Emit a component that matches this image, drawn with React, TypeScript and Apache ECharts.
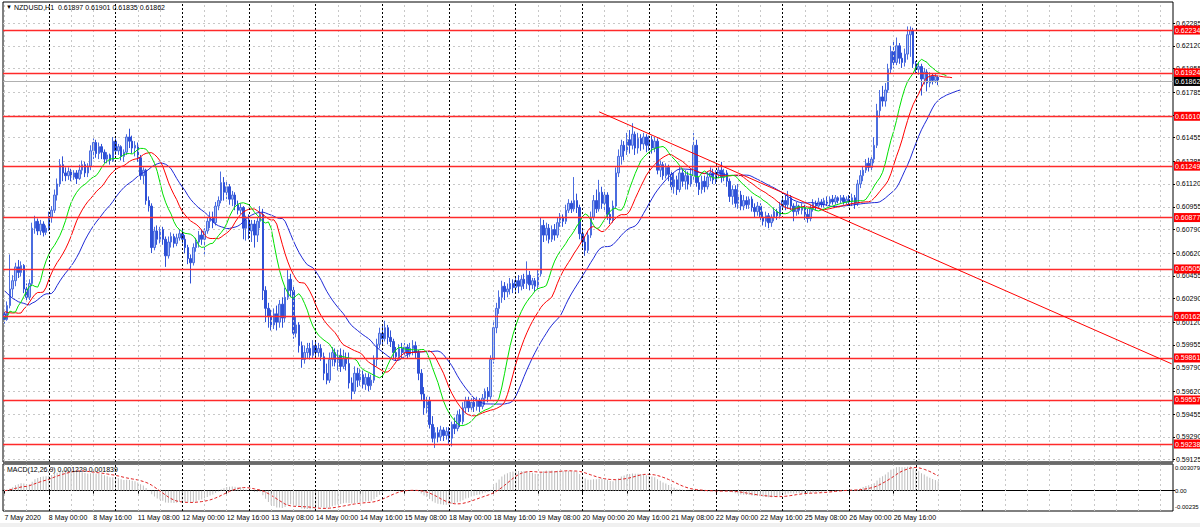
import React, { useEffect, useRef } from 'react';
import * as echarts from 'echarts';

const FONT = '"Liberation Sans", Arial, sans-serif';
const SYMBOL = 'NZDUSD,H1';
const FIRST_LABEL = '7 May 2020';
const PIP = 10000;

// Hourly candles per trading day, in pips: [open, close, low, high]
const may07 = [
  [6018,6014,6011,6021],[6014,6024,6013,6027],[6024,6036,6022,6061],[6036,6042,6030,6046],
  [6042,6052,6038,6055],[6052,6048,6044,6057],[6048,6053,6045,6056],[6053,6036,6033,6054],
  [6036,6030,6027,6040],[6030,6040,6028,6043],[6040,6080,6038,6084],[6080,6085,6076,6089],
  [6085,6078,6075,6087],[6078,6083,6075,6086],[6083,6077,6074,6085],[6077,6080,6075,6082],
];
const may08 = [
  [6080,6088,6078,6092],[6088,6093,6084,6096],[6093,6104,6091,6108],[6104,6112,6100,6116],
  [6112,6126,6110,6130],[6126,6120,6114,6132],[6120,6118,6114,6124],[6118,6121,6115,6124],
  [6121,6117,6114,6123],[6117,6120,6115,6122],[6120,6116,6112,6122],[6116,6122,6115,6126],
  [6122,6126,6119,6129],[6126,6120,6117,6128],[6120,6125,6117,6127],[6125,6136,6122,6140],
  [6136,6142,6130,6145],[6142,6134,6131,6144],[6134,6139,6130,6142],[6139,6135,6130,6141],
  [6135,6130,6127,6137],[6130,6133,6127,6135],[6133,6129,6126,6134],[6129,6143,6128,6146],
];
const may11 = [
  [6143,6136,6133,6145],[6136,6139,6133,6141],[6139,6132,6129,6140],[6132,6135,6128,6137],
  [6135,6146,6133,6148],[6146,6143,6138,6152],[6143,6138,6134,6147],[6138,6140,6132,6143],
  [6140,6131,6128,6142],[6131,6118,6115,6133],[6118,6122,6112,6124],[6122,6100,6097,6123],
  [6100,6096,6092,6103],[6096,6066,6062,6098],[6066,6078,6064,6081],[6078,6072,6068,6082],
  [6072,6079,6069,6081],[6079,6072,6068,6081],[6072,6060,6052,6074],[6060,6070,6058,6074],
  [6070,6074,6066,6077],[6074,6069,6066,6076],[6069,6073,6067,6076],[6073,6076,6071,6079],
];
const may12 = [
  [6076,6072,6069,6079],[6072,6066,6062,6075],[6066,6058,6054,6068],[6058,6055,6040,6061],
  [6055,6066,6053,6069],[6066,6070,6063,6073],[6070,6075,6066,6078],[6075,6072,6068,6079],
  [6072,6078,6061,6080],[6078,6085,6076,6088],[6085,6088,6080,6092],[6088,6084,6080,6092],
  [6084,6096,6082,6099],[6096,6100,6093,6103],[6100,6113,6098,6121],[6113,6106,6100,6117],
  [6106,6110,6101,6114],[6110,6101,6097,6112],[6101,6104,6096,6107],[6104,6097,6093,6106],
  [6097,6093,6090,6100],[6093,6095,6090,6098],[6095,6080,6072,6096],[6080,6086,6071,6089],
];
const may13 = [
  [6086,6078,6072,6090],[6078,6083,6070,6086],[6083,6075,6066,6086],[6075,6085,6070,6088],
  [6085,6090,6080,6096],[6090,6035,6028,6094],[6035,6022,6012,6038],[6022,6016,6008,6026],
  [6016,6010,6006,6021],[6010,6018,6007,6022],[6018,6012,6006,6024],[6012,6025,6008,6028],
  [6025,6015,6008,6030],[6015,6030,6012,6037],[6030,6043,6028,6050],[6043,6035,6030,6047],
  [6035,6004,6000,6038],[6004,6010,6001,6016],[6010,5995,5990,6012],[5995,5985,5979,5998],
  [5985,5990,5982,5995],[5990,5993,5986,5997],[5993,5988,5985,5997],[5988,5995,5986,5999],
];
const may14 = [
  [5995,5990,5986,5999],[5990,5993,5987,5997],[5993,5987,5984,5996],[5987,5975,5970,5990],
  [5975,5970,5967,5982],[5970,5985,5968,5990],[5985,5990,5980,5994],[5990,5983,5980,5993],
  [5983,5988,5977,5992],[5988,5980,5976,5993],[5980,5986,5978,5992],[5986,5982,5977,5990],
  [5982,5968,5964,5990],[5968,5962,5956,5972],[5962,5975,5960,5980],[5975,5970,5965,5979],
  [5970,5974,5966,5978],[5974,5967,5964,5977],[5967,5972,5963,5975],[5972,5966,5962,5975],
  [5966,5970,5963,5974],[5970,5985,5968,5988],[5985,5996,5980,6000],[5996,6004,5993,6008],
];
const may15 = [
  [6004,6000,5995,6010],[6000,6008,5998,6013],[6008,6001,5996,6010],[6001,5998,5994,6006],
  [5998,5990,5986,6000],[5990,5987,5984,5994],[5987,5993,5985,5996],[5993,5990,5986,5997],
  [5990,5994,5987,5997],[5994,5989,5986,5996],[5989,5993,5987,5997],[5993,5995,5988,5999],
  [5995,5990,5986,5998],[5990,5975,5970,5992],[5975,5960,5955,5978],[5960,5950,5945,5965],
  [5950,5955,5946,5958],[5955,5938,5935,5958],[5938,5928,5925,5944],[5928,5932,5921,5936],
  [5932,5929,5925,5936],[5929,5934,5926,5937],[5934,5930,5926,5936],[5930,5933,5927,5936],
];
const may18 = [
  [5933,5928,5924,5936],[5928,5938,5922,5940],[5938,5935,5931,5943],[5935,5945,5933,5948],
  [5945,5940,5936,5949],[5940,5950,5938,5954],[5950,5955,5946,5958],[5955,5950,5947,5958],
  [5950,5954,5948,5957],[5954,5951,5947,5957],[5951,5955,5948,5958],[5955,5951,5947,5957],
  [5951,5957,5949,5960],[5957,5962,5952,5964],[5962,5958,5954,5965],[5958,5985,5956,5988],
  [5985,6008,5982,6012],[6008,6022,6004,6026],[6022,6030,6018,6035],[6030,6038,6026,6042],
  [6038,6034,6028,6041],[6034,6036,6030,6040],[6036,6040,6032,6044],[6040,6037,6033,6043],
];
const may19 = [
  [6037,6042,6034,6045],[6042,6038,6033,6046],[6038,6043,6035,6046],[6043,6040,6036,6047],
  [6040,6046,6036,6056],[6046,6039,6035,6049],[6039,6042,6036,6044],[6042,6038,6034,6044],
  [6038,6047,6036,6050],[6047,6082,6045,6088],[6082,6075,6070,6086],[6075,6080,6071,6084],
  [6080,6072,6069,6083],[6072,6079,6070,6082],[6079,6075,6071,6083],[6075,6084,6073,6088],
  [6084,6088,6081,6091],[6088,6085,6081,6090],[6085,6093,6083,6097],[6093,6098,6091,6101],
  [6098,6094,6091,6100],[6094,6100,6092,6117],[6100,6095,6091,6105],[6095,6076,6072,6097],
];
const may20 = [
  [6076,6070,6066,6080],[6070,6064,6060,6074],[6064,6075,6062,6078],[6075,6088,6073,6092],
  [6088,6100,6086,6104],[6100,6094,6091,6108],[6094,6106,6092,6115],[6106,6098,6094,6110],
  [6098,6104,6093,6108],[6104,6090,6086,6106],[6090,6086,6083,6095],[6086,6096,6084,6100],
  [6096,6120,6094,6124],[6120,6132,6117,6137],[6132,6140,6126,6144],[6140,6136,6129,6143],
  [6136,6144,6133,6149],[6144,6140,6134,6151],[6140,6148,6137,6156],[6148,6138,6133,6150],
  [6138,6145,6134,6149],[6145,6141,6136,6148],[6141,6146,6137,6149],[6146,6140,6135,6148],
];
const may21 = [
  [6140,6144,6136,6147],[6144,6138,6134,6147],[6138,6143,6135,6146],[6143,6122,6119,6145],
  [6122,6126,6117,6129],[6126,6118,6115,6128],[6118,6124,6116,6127],[6124,6119,6114,6126],
  [6119,6110,6106,6122],[6110,6115,6105,6120],[6115,6108,6104,6118],[6108,6120,6106,6125],
  [6120,6114,6110,6123],[6114,6118,6108,6122],[6118,6112,6108,6121],[6112,6118,6110,6123],
  [6118,6140,6115,6149],[6140,6113,6110,6144],[6113,6108,6104,6117],[6108,6114,6105,6118],
  [6114,6110,6106,6118],[6110,6117,6108,6121],[6117,6120,6114,6124],[6120,6115,6112,6123],
];
const may22 = [
  [6115,6119,6112,6122],[6119,6122,6116,6125],[6122,6117,6113,6128],[6117,6120,6114,6123],
  [6120,6114,6110,6122],[6114,6103,6099,6116],[6103,6108,6097,6111],[6108,6098,6095,6111],
  [6098,6104,6094,6112],[6104,6096,6093,6107],[6096,6100,6093,6104],[6100,6097,6094,6103],
  [6097,6101,6094,6103],[6101,6095,6092,6103],[6095,6092,6088,6098],[6092,6096,6089,6099],
  [6096,6088,6085,6098],[6088,6085,6082,6092],[6085,6089,6081,6092],[6089,6084,6080,6091],
  [6084,6088,6081,6090],[6088,6092,6085,6095],[6092,6089,6086,6094],[6089,6096,6087,6099],
];
const may25 = [
  [6096,6100,6093,6103],[6100,6097,6093,6104],[6097,6102,6094,6107],[6102,6096,6093,6104],
  [6096,6092,6085,6098],[6092,6096,6089,6099],[6096,6093,6090,6097],[6093,6095,6090,6098],
  [6095,6090,6086,6097],[6090,6087,6084,6094],[6087,6094,6085,6097],[6094,6098,6092,6101],
  [6098,6096,6093,6100],[6096,6099,6094,6102],[6099,6097,6095,6101],[6097,6100,6095,6102],
  [6100,6098,6096,6103],[6098,6101,6096,6103],[6101,6099,6097,6104],[6099,6102,6097,6104],
  [6102,6100,6098,6103],[6100,6102,6098,6104],[6102,6099,6097,6104],[6099,6101,6097,6103],
];
const may26 = [
  [6101,6099,6097,6104],[6099,6102,6096,6105],[6102,6098,6094,6104],[6098,6112,6096,6115],
  [6112,6118,6109,6122],[6118,6122,6114,6125],[6122,6127,6120,6130],[6127,6124,6121,6131],
  [6124,6130,6122,6133],[6130,6140,6127,6146],[6140,6165,6138,6170],[6165,6175,6160,6180],
  [6175,6172,6168,6183],[6172,6180,6168,6185],[6180,6195,6178,6199],[6195,6208,6192,6212],
  [6208,6200,6196,6215],[6200,6212,6198,6218],[6212,6203,6199,6214],[6203,6200,6196,6207],
  [6200,6206,6197,6210],[6206,6220,6202,6226],[6220,6223,6204,6226],[6223,6199,6196,6225],
];
const may27 = [
  [6199,6195,6192,6201],[6195,6197,6191,6200],[6197,6188,6176,6199],[6188,6193,6184,6196],
  [6193,6185,6179,6195],[6185,6190,6182,6193],[6190,6187,6184,6192],[6187,6189.7,6185,6192],
  [6189.7,6186.2,6183.5,6190.1],
];

const tradingDays = ['7 May','8 May','11 May','12 May','13 May','14 May','15 May','18 May','19 May','20 May','21 May','22 May','25 May','26 May','27 May'];
const dayCandles = [may07,may08,may11,may12,may13,may14,may15,may18,may19,may20,may21,may22,may25,may26,may27];
const futureDays = ['28 May','29 May','1 Jun'];
const TOTAL_SLOTS = 421;

// Horizontal levels drawn on the chart
const levels = [0.62234, 0.61924, 0.61610, 0.61249, 0.60877, 0.60505, 0.60162, 0.59861, 0.59557, 0.59238];
// Price axis tick labels
const priceTicks = [0.59125,0.59290,0.59455,0.59620,0.59790,0.59955,0.60120,0.60290,0.60455,0.60620,
  0.60790,0.60955,0.61120,0.61285,0.61455,0.61620,0.61785,0.61955,0.62120,0.62285];
const PRICE_MIN = 0.59108;
const PRICE_MAX = 0.62437;
// MACD pane
const macdTickValues = [0.003079, 0, -0.00235];
const macdTickLabels = ['0.003079', '0.00', '-0.00235'];
const macdShown = ['0.001229', '0.001839'];
// Trend line anchors (ray)
const trendFrom = { time: '20 May 06:00', price: 0.61642 };
const trendThrough = { time: '26 May 04:00', price: 0.60810 };
// Alligator values visible at the left edge (before the first bar's own value)
const jawLead = [0.60348, 0.60329, 0.60309, 0.60292, 0.60280, 0.60268, 0.60261, 0.60256];
const teethLead = [0.60196, 0.60192, 0.60188, 0.60186, 0.60188];
const lipsLead = [0.60148, 0.60160, 0.60200];
const GRID_STEP = 8; // bars between vertical grid lines

const hh = (h: number) => (h < 10 ? '0' : '') + h + ':00';

function buildOption() {
  const candles: number[][] = [];
  const categories: string[] = [];
  dayCandles.forEach((arr, d) => {
    const start = d === 0 ? 24 - arr.length : 0;
    arr.forEach((c, k) => {
      categories.push(`${tradingDays[d]} ${hh(start + k)}`);
      candles.push(c.map((v) => v / PIP));
    });
  });
  const lastBar = candles.length - 1;
  for (let h = may27.length; h < 24; h++) categories.push(`27 May ${hh(h)}`);
  futureDays.forEach((d) => {
    for (let h = 0; h < 24; h++) if (categories.length < TOTAL_SLOTS) categories.push(`${d} ${hh(h)}`);
  });

  const median = candles.map((c) => (c[2] + c[3]) / 2);
  const closes = candles.map((c) => c[1]);

  const alligator = (n: number, lead: number[]) => {
    const shift = lead.length;
    const out: (number | null)[] = new Array(categories.length).fill(null);
    lead.forEach((v, i) => (out[i] = v));
    let prev = lead[lead.length - 1];
    median.forEach((v, i) => {
      prev = (prev * (n - 1) + v) / n;
      if (i + shift < out.length) out[i + shift] = prev;
    });
    return out;
  };
  const jaw = alligator(13, jawLead);
  const teeth = alligator(8, teethLead);
  const lips = alligator(5, lipsLead);

  const ema = (src: number[], n: number) => {
    const k = 2 / (n + 1);
    let prev = src[0];
    return src.map((v, i) => (prev = i === 0 ? v : prev + k * (v - prev)));
  };
  const e12 = ema(closes, 12);
  const e26 = ema(closes, 26);
  const macd = closes.map((_, i) => e12[i] - e26[i]);
  const signal = macd.map((_, i) => {
    const w = macd.slice(Math.max(0, i - 8), i + 1);
    return w.reduce((a, b) => a + b, 0) / w.length;
  });

  const separatorIdx = [...tradingDays.slice(1), futureDays[0]].map((d) => categories.indexOf(`${d} 00:00`));
  const sepSet = new Set(separatorIdx);
  const gridIdx: number[] = [];
  for (let i = 0; i < categories.length; i += GRID_STEP) if (!sepSet.has(i)) gridIdx.push(i);
  const labelInterval = (i: number) => i % 16 === 0 && i < lastBar;

  const verticals = () => [
    ...gridIdx.map((i) => ({ xAxis: i, lineStyle: { color: '#c8c8c8', type: [2, 3], width: 1 }, label: { show: false } })),
    ...separatorIdx.map((i) => ({ xAxis: i, lineStyle: { color: '#000', type: [2, 2], width: 1 }, label: { show: false } })),
  ];

  const fIdx = categories.indexOf(trendFrom.time);
  const tIdx = categories.indexOf(trendThrough.time);
  const slope = (trendThrough.price - trendFrom.price) / (tIdx - fIdx);
  const endIdx = categories.length - 1;
  const endPrice = trendFrom.price + slope * (endIdx - fIdx);
  const trendStyle = { color: '#ff0000', width: 1, type: 'solid' };

  const boxLabel = (text: string, bg: string) => ({
    show: true, position: 'end', distance: 1, formatter: text, color: '#fff',
    backgroundColor: bg, fontSize: 7, fontFamily: FONT, padding: [1, 1, 0, 1], lineHeight: 8,
  });

  const last = candles[lastBar];
  const levelLines = levels.map((v) => ({
    yAxis: v,
    lineStyle: { color: '#ff2a2a', width: 1.3, type: 'solid' },
    label: boxLabel(v.toFixed(5), '#ff0000'),
  }));
  const currentLine = {
    yAxis: last[1],
    lineStyle: { color: '#b0b0b0', width: 1, type: 'solid' },
    label: boxLabel(last[1].toFixed(5), '#000000'),
  };

  const gridLine = { show: true, lineStyle: { color: '#c8c8c8', type: [2, 3], width: 1 } };
  const header = `${SYMBOL}  ${last[0].toFixed(5)} ${last[3].toFixed(5)} ${last[2].toFixed(5)} ${last[1].toFixed(5)}`;
  const marker = (data: any[]) => ({ silent: true, symbol: ['none', 'none'], animation: false, precision: 6, data });

  return {
    animation: false,
    backgroundColor: '#ffffff',
    textStyle: { fontFamily: FONT },
    grid: [
      { left: 3, top: 2, width: 1170, height: 460, show: true, borderColor: '#000', borderWidth: 1, backgroundColor: '#fff', outerBoundsMode: 'none' },
      { left: 3, top: 464, width: 1170, height: 47, show: true, borderColor: '#000', borderWidth: 1, backgroundColor: '#fff', outerBoundsMode: 'none' },
    ],
    xAxis: [
      {
        type: 'category', gridIndex: 0, data: categories, boundaryGap: true,
        axisLine: { show: false }, axisTick: { show: false }, axisLabel: { show: false }, splitLine: { show: false },
      },
      {
        type: 'category', gridIndex: 1, data: categories, boundaryGap: true,
        axisLine: { show: true, lineStyle: { color: '#000' } },
        axisTick: { show: true, interval: labelInterval, alignWithLabel: true, length: 3, lineStyle: { color: '#000' } },
        axisLabel: {
          show: true, interval: labelInterval, fontSize: 7, color: '#000', align: 'left', margin: 3, fontFamily: FONT,
          formatter: (v: string, i: number) => (i === 0 ? FIRST_LABEL : v),
        },
        splitLine: { show: false },
      },
    ],
    yAxis: [
      {
        type: 'value', gridIndex: 0, position: 'right', min: PRICE_MIN, max: PRICE_MAX, scale: true,
        axisLine: { show: false },
        axisTick: { show: true, customValues: priceTicks, length: 2, lineStyle: { color: '#000' } },
        axisLabel: { customValues: priceTicks, formatter: (v: number) => v.toFixed(5), fontSize: 7, margin: 3, color: '#000', fontFamily: FONT },
        splitLine: gridLine,
      },
      {
        type: 'value', gridIndex: 1, position: 'right', min: macdTickValues[2], max: macdTickValues[0],
        axisLine: { show: false },
        axisTick: { show: true, customValues: [0], length: 2, lineStyle: { color: '#000' } },
        axisLabel: {
          customValues: macdTickValues, fontSize: 6, margin: 2, color: '#000', fontFamily: FONT,
          formatter: (v: number) => {
            let best = 0;
            macdTickValues.forEach((t, i) => { if (Math.abs(t - v) < Math.abs(macdTickValues[best] - v)) best = i; });
            const key = best === 0 ? 't' : best === 2 ? 'b' : 'm';
            return `{${key}|${macdTickLabels[best]}}`;
          },
          rich: {
            t: { fontSize: 6, fontFamily: FONT, color: '#000', padding: [8, 0, 0, 0] },
            m: { fontSize: 6, fontFamily: FONT, color: '#000' },
            b: { fontSize: 6, fontFamily: FONT, color: '#000', padding: [0, 0, 8, 0] },
          },
        },
        splitLine: gridLine,
      },
    ],
    graphic: [
      { type: 'rect', shape: { x: 3, y: 461.5, width: 1170, height: 3 }, style: { fill: '#6a6a6a' }, z: 100 },
      { type: 'rect', shape: { x: 0, y: 523, width: 1200, height: 4 }, style: { fill: '#f0f0f0' } },
      { type: 'text', x: 6, y: 4, style: { text: '\u25BC', fontSize: 6, fontFamily: FONT, fill: '#000' }, z: 100 },
      { type: 'text', x: 14, y: 4, style: { text: header, fontSize: 7, fontFamily: FONT, fill: '#000' }, z: 100 },
      { type: 'text', x: 7, y: 466, style: { text: `MACD(12,26,9) ${macdShown[0]} ${macdShown[1]}`, fontSize: 7, fontFamily: FONT, fill: '#000' }, z: 100 },
    ],
    series: [
      // vertical grid + day separators, behind the price marks
      { type: 'line', xAxisIndex: 0, yAxisIndex: 0, data: [], z: 1, markLine: marker(verticals()) },
      { type: 'line', xAxisIndex: 1, yAxisIndex: 1, data: [], z: 1, markLine: marker(verticals()) },
      {
        type: 'candlestick', xAxisIndex: 0, yAxisIndex: 0, data: candles, barWidth: 2, z: 3,
        itemStyle: { color: '#a9bff5', borderColor: '#4b6cdf', color0: '#2f51d6', borderColor0: '#2f51d6', borderWidth: 1 },
        markLine: marker([
          ...levelLines,
          currentLine,
          [
            { coord: [fIdx, trendFrom.price], lineStyle: trendStyle, label: { show: false } },
            { coord: [endIdx, endPrice], lineStyle: trendStyle, label: { show: false } },
          ],
        ]),
      },
      { type: 'line', name: 'Jaw', xAxisIndex: 0, yAxisIndex: 0, data: jaw, showSymbol: false, z: 4, lineStyle: { color: '#1f2ad6', width: 1 } },
      { type: 'line', name: 'Teeth', xAxisIndex: 0, yAxisIndex: 0, data: teeth, showSymbol: false, z: 4, lineStyle: { color: '#ff0000', width: 1 } },
      { type: 'line', name: 'Lips', xAxisIndex: 0, yAxisIndex: 0, data: lips, showSymbol: false, z: 4, lineStyle: { color: '#00e000', width: 1 } },
      { type: 'bar', xAxisIndex: 1, yAxisIndex: 1, data: macd, barWidth: 1, z: 3, itemStyle: { color: '#bdbdbd' } },
      { type: 'line', xAxisIndex: 1, yAxisIndex: 1, data: signal, showSymbol: false, z: 4, lineStyle: { color: '#e02020', width: 1, type: [3, 2] } },
    ],
  };
}

export default function App() {
  const ref = useRef<HTMLDivElement>(null);
  useEffect(() => {
    const chart = echarts.init(ref.current!, null, { renderer: 'svg' });
    chart.setOption(buildOption() as any);
    return () => chart.dispose();
  }, []);
  return (
    <div
      ref={ref}
      style={{ position: 'fixed', left: 0, top: 0, width: 1200, height: 527, background: '#fff' }}
    />
  );
}
